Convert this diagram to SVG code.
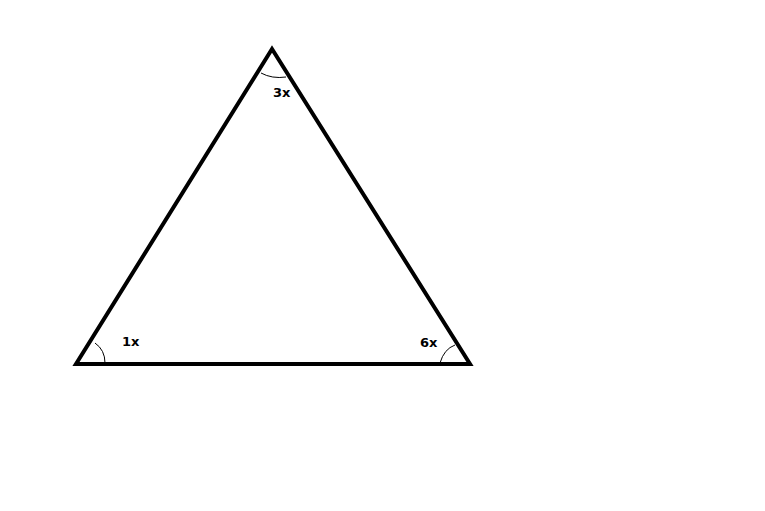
<svg xmlns="http://www.w3.org/2000/svg" width="765" height="511" viewBox="0 0 765 511">
<style>
.edge{fill:none;stroke:#000;stroke-width:4;stroke-linejoin:miter;stroke-linecap:square}
.arc{fill:none;stroke:#000;stroke-width:1}
.lbl{font-family:"DejaVu Sans",sans-serif;font-weight:bold;font-size:13px;fill:#000}
</style>
<rect width="765" height="511" fill="#fff"/>
<g id="connectors">
<polygon class="edge" points="272,49 76,364 470,364"/>
</g>
<g id="angle-top">
<path class="arc" d="M261,73 Q272,79 286,77"/>
<text class="lbl" x="273" y="97">3x</text>
</g>
<g id="angle-left">
<path class="arc" d="M95,343 Q105,350 105,363"/>
<text class="lbl" x="122" y="346">1x</text>
</g>
<g id="angle-right">
<path class="arc" d="M440,363 Q444,349 455,345"/>
<text class="lbl" x="420" y="347">6x</text>
</g>
</svg>
